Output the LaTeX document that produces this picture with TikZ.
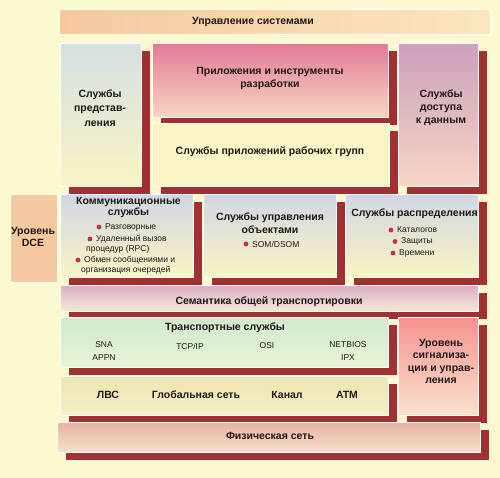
\documentclass[tikz,border=0pt]{standalone}
\usepackage{fontspec}
\setmainfont{Liberation Sans}
\usetikzlibrary{shadows}
\definecolor{bg}{RGB}{252,249,208}
\definecolor{shred}{RGB}{160,48,50}
\definecolor{txt}{RGB}{30,24,24}
\definecolor{bulc}{RGB}{200,48,64}
\definecolor{peach}{RGB}{246,200,160}
\definecolor{peachl}{RGB}{250,230,190}
\definecolor{bluegr}{RGB}{212,224,226}
\definecolor{yel}{RGB}{249,245,196}
\definecolor{pinkd}{RGB}{228,122,150}
\definecolor{pinkl}{RGB}{248,214,196}
\definecolor{mauve}{RGB}{204,160,188}
\definecolor{mauvep}{RGB}{236,180,196}
\definecolor{bluegy}{RGB}{210,214,228}
\definecolor{semt}{RGB}{218,176,196}
\definecolor{seml}{RGB}{248,232,216}
\definecolor{grn}{RGB}{208,234,204}
\definecolor{grnl}{RGB}{232,244,212}
\definecolor{sigt}{RGB}{246,146,146}
\definecolor{sigl}{RGB}{250,226,204}
\definecolor{olv}{RGB}{236,230,176}
\definecolor{olvl}{RGB}{244,240,200}
\definecolor{phyt}{RGB}{232,178,162}
\definecolor{phyl}{RGB}{246,226,204}
\begin{document}
\begin{tikzpicture}[x=1pt,y=-1pt,
  box/.style={draw=white, line width=0.8pt, inner sep=0pt, anchor=north west,
    drop shadow={shadow xshift=9pt, shadow yshift=-8pt, fill=shred, opacity=1}},
  flatbox/.style={draw=white, line width=0.8pt, inner sep=0pt, anchor=north west},
  ttl/.style={font=\fontsize{10.5}{13}\selectfont\bfseries, text=txt, align=center, inner sep=0pt},
  sm/.style={font=\fontsize{8.5}{10}\selectfont, text=txt, inner sep=0pt},
  itm/.style={sm, anchor=west},
  bul/.style={fill=bulc}
]
\fill[bg] (0,0) rectangle (500,478);
\useasboundingbox (0,0) rectangle (500,478);

% boxes
\node[flatbox, minimum width=431pt, minimum height=25pt, left color=peach, right color=peachl] (top) at (59,9) {};
\node[box, minimum width=81pt, minimum height=143pt, top color=bluegr, bottom color=yel] (pres) at (60,43) {};
\node[box, minimum width=236pt, minimum height=74pt, top color=pinkd, bottom color=pinkl] (apps) at (152,43) {};
\node[box, minimum width=80pt, minimum height=143pt, top color=mauve, middle color=mauvep, bottom color=pinkl] (data) at (398,43) {};
\node[box, minimum width=237pt, minimum height=63pt, top color=yel, bottom color=yel] (wg) at (152,123) {};
\node[flatbox, minimum width=47pt, minimum height=88pt, fill=peach] (dce) at (10,194) {};
\node[box, minimum width=133pt, minimum height=83pt, top color=bluegy, bottom color=yel] (comm) at (60,194) {};
\node[box, minimum width=133pt, minimum height=83pt, top color=bluegy, bottom color=yel] (obj) at (203,194) {};
\node[box, minimum width=133pt, minimum height=83pt, top color=bluegy, bottom color=yel] (dist) at (345,194) {};
\node[box, minimum width=418pt, minimum height=26pt, top color=semt, bottom color=seml] (sem) at (60,285) {};
\node[box, minimum width=328pt, minimum height=50pt, top color=grn, bottom color=grnl] (trans) at (60,317) {};
\node[box, minimum width=80pt, minimum height=98pt, top color=sigt, bottom color=sigl] (sig) at (398,317) {};
\node[box, minimum width=328pt, minimum height=39pt, top color=olv, bottom color=olvl] (lan) at (60,376) {};
\node[box, minimum width=423pt, minimum height=30pt, top color=phyt, bottom color=phyl] (phys) at (57,422) {};

% titles
\node[ttl] (ttop) at (253,22) {Управление системами};
\node[ttl, font=\fontsize{10.5}{14.5}\selectfont\bfseries] (tpres) at (100,108) {Службы\\представ-\\ления};
\node[ttl] (tapps) at (270,78) {Приложения и инструменты\\разработки};
\node[ttl] (tdata) at (441,107.5) {Службы\\доступа\\к данным};
\node[ttl] (twg) at (270,152) {Службы приложений рабочих групп};
\node[ttl, font=\fontsize{10.5}{12}\selectfont\bfseries] (tdce) at (33,237) {Уровень\\DCE};
\node[ttl, font=\fontsize{10.5}{11.5}\selectfont\bfseries] (tcomm) at (128.5,207.5) {Коммуникационные\\службы};
\node[ttl] (tobj) at (270,223.5) {Службы управления\\объектами};
\node[ttl] (tdist) at (414.5,214) {Службы распределения};
\node[ttl] (tsem) at (269,302) {Семантика общей транспортировки};
\node[ttl] (ttrans) at (225,328) {Транспортные службы};
\node[ttl, font=\fontsize{10.5}{12.5}\selectfont\bfseries] (tsig) at (441,361.5) {Уровень\\сигнализа-\\ции и управ-\\ления};
\node[ttl] (tphys) at (270,436) {Физическая сеть};

% communication items
\node[itm] (c1) at (105,227) {Разговорные};
\node[itm] (c2) at (96,239) {Удаленный вызов};
\node[itm] (c3) at (86,249.5) {процедур (RPC)};
\node[itm] (c4) at (84,260) {Обмен сообщениями и};
\node[itm] (c5) at (81,270.5) {организация очередей};
\fill[bul] ([xshift=-6pt]c1.west) circle (2.4pt);
\fill[bul] ([xshift=-6pt]c2.west) circle (2.4pt);
\fill[bul] ([xshift=-6pt]c4.west) circle (2.4pt);

% object items
\node[itm] (o1) at (252,244) {SOM/DSOM};
\fill[bul] ([xshift=-6pt]o1.west) circle (2.4pt);

% distribution items
\node[itm] (d1) at (397,230) {Каталогов};
\node[itm] (d2) at (401,241.5) {Защиты};
\node[itm] (d3) at (399,253) {Времени};
\fill[bul] ([xshift=-6pt]d1.west) circle (2.4pt);
\fill[bul] ([xshift=-6pt]d2.west) circle (2.4pt);
\fill[bul] ([xshift=-6pt]d3.west) circle (2.4pt);

% transport protocols
\node[sm] (sna) at (104,345) {SNA};
\node[sm] (appn) at (104,358) {APPN};
\node[sm] (tcp) at (190,346) {TCP/IP};
\node[sm] (osi) at (267,346) {OSI};
\node[sm] (nb) at (348,345) {NETBIOS};
\node[sm] (ipx) at (348,358) {IPX};

% networks
\node[ttl] (lvs) at (108,395) {ЛВС};
\node[ttl] (wan) at (196,395) {Глобальная сеть};
\node[ttl] (chan) at (287,395) {Канал};
\node[ttl] (atm) at (347,394.5) {ATM};
\end{tikzpicture}
\end{document}
